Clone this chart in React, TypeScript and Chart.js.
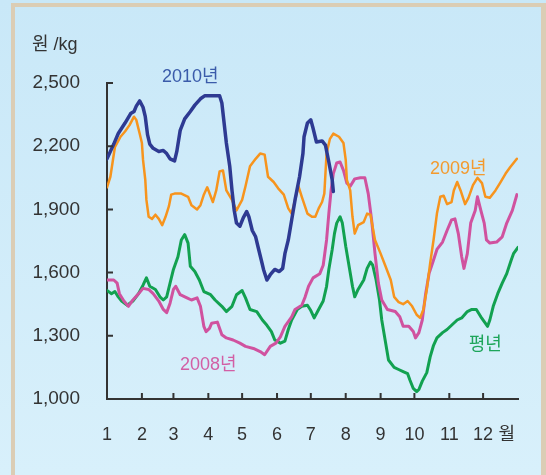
import React, { useEffect, useRef } from "react";
import { Chart, registerables } from "chart.js";

Chart.register(...registerables);

// x positions are day-of-year (0 = 1 Jan, 365 = 31 Dec end)
const monthStarts = [0, 31, 59, 90, 120, 151, 181, 212, 243, 273, 304, 334];
const monthLabels = ["1", "2", "3", "4", "5", "6", "7", "8", "9", "10", "11", "12"];
const yTicks = [1000, 1300, 1600, 1900, 2200, 2500];

const days2010 = [0, 6, 10, 16, 21, 24, 26, 29, 32, 34, 36, 38, 41, 46, 50, 53, 56, 60, 62, 65, 69, 74, 78, 83, 87, 100, 102, 104, 106, 109, 111, 113, 115, 118, 121, 124, 126, 129, 132, 134, 137, 139, 142, 145, 149, 153, 156, 158, 161, 164, 167, 171, 174, 175, 178, 181, 183, 186, 191, 194, 197, 200, 201];
const price2010 = [2140, 2210, 2260, 2310, 2355, 2365, 2390, 2415, 2385, 2340, 2255, 2210, 2190, 2175, 2180, 2165, 2140, 2130, 2175, 2275, 2330, 2365, 2395, 2425, 2440, 2440, 2405, 2310, 2215, 2105, 1990, 1895, 1835, 1820, 1860, 1890, 1865, 1800, 1770, 1725, 1660, 1615, 1565, 1590, 1615, 1605, 1620, 1690, 1755, 1850, 1945, 2055, 2165, 2245, 2310, 2325, 2285, 2220, 2225, 2205, 2125, 2040, 1985];

const days2009 = [0, 3, 5, 7, 12, 16, 20, 24, 26, 29, 31, 32, 34, 35, 37, 40, 43, 46, 49, 52, 55, 57, 60, 66, 72, 75, 80, 83, 86, 89, 94, 97, 100, 103, 106, 111, 115, 120, 123, 127, 132, 136, 140, 143, 148, 152, 157, 161, 164, 167, 170, 173, 178, 182, 185, 188, 191, 193, 194, 195, 198, 201, 206, 210, 212, 213, 216, 218, 220, 223, 228, 231, 234, 238, 243, 247, 252, 255, 259, 263, 267, 271, 275, 278, 281, 284, 287, 290, 293, 296, 299, 302, 306, 308, 311, 314, 318, 321, 325, 329, 333, 336, 340, 345, 349, 354, 358, 364];
const price2009 = [2005, 2055, 2125, 2195, 2245, 2270, 2300, 2340, 2325, 2260, 2215, 2135, 2040, 1945, 1865, 1855, 1875, 1855, 1825, 1865, 1915, 1970, 1975, 1975, 1960, 1920, 1900, 1920, 1970, 2005, 1935, 1990, 2080, 2085, 1990, 1945, 1895, 1945, 2010, 2105, 2140, 2165, 2160, 2055, 2030, 2000, 1970, 1905, 1880, 1945, 2010, 1960, 1880, 1865, 1865, 1905, 1935, 1975, 2070, 2165, 2235, 2260, 2245, 2215, 2135, 2040, 1990, 1865, 1785, 1825, 1840, 1880, 1875, 1755, 1690, 1635, 1565, 1485, 1460, 1450, 1465, 1440, 1400, 1385, 1425, 1520, 1645, 1755, 1880, 1960, 1965, 1925, 1935, 1990, 2030, 1990, 1925, 1955, 2015, 2050, 2025, 1960, 1955, 1990, 2025, 2070, 2100, 2140];

const days2008 = [0, 6, 9, 11, 15, 19, 23, 28, 32, 37, 41, 46, 50, 53, 56, 59, 61, 65, 71, 75, 80, 83, 86, 88, 91, 93, 98, 102, 106, 112, 118, 123, 130, 136, 140, 145, 150, 154, 158, 164, 167, 173, 176, 179, 183, 189, 192, 195, 197, 199, 201, 204, 207, 210, 213, 216, 220, 225, 229, 232, 235, 238, 241, 244, 249, 256, 260, 263, 268, 272, 274, 277, 280, 283, 286, 290, 293, 298, 302, 306, 309, 312, 315, 317, 320, 323, 327, 329, 332, 335, 337, 340, 346, 351, 355, 360, 364];
const price2008 = [1565, 1565, 1550, 1500, 1465, 1440, 1470, 1500, 1525, 1520, 1500, 1465, 1425, 1410, 1455, 1520, 1535, 1495, 1480, 1470, 1480, 1440, 1345, 1320, 1335, 1360, 1365, 1305, 1290, 1280, 1265, 1250, 1240, 1225, 1210, 1250, 1265, 1295, 1345, 1390, 1425, 1445, 1485, 1535, 1575, 1595, 1635, 1755, 1880, 1990, 2070, 2120, 2125, 2085, 2025, 2010, 2045, 2050, 2050, 1975, 1850, 1690, 1550, 1470, 1425, 1415, 1390, 1345, 1345, 1320, 1290, 1315, 1375, 1500, 1595, 1660, 1710, 1745, 1800, 1850, 1855, 1785, 1675, 1620, 1690, 1835, 1895, 1960, 1895, 1835, 1755, 1740, 1745, 1770, 1835, 1895, 1970];

const daysNormal = [0, 4, 7, 10, 13, 18, 23, 28, 32, 35, 38, 43, 47, 50, 53, 56, 59, 63, 66, 69, 72, 74, 78, 82, 86, 90, 92, 96, 102, 106, 111, 115, 120, 123, 127, 133, 138, 142, 146, 149, 154, 158, 161, 164, 169, 173, 178, 181, 184, 187, 192, 195, 197, 200, 202, 204, 207, 209, 212, 215, 218, 220, 223, 228, 231, 234, 236, 239, 242, 244, 247, 250, 255, 259, 263, 267, 269, 272, 275, 277, 280, 284, 287, 290, 293, 298, 302, 306, 311, 315, 320, 324, 328, 332, 338, 340, 343, 347, 351, 355, 359, 361, 365];
const priceNormal = [1515, 1500, 1510, 1485, 1465, 1445, 1465, 1500, 1540, 1575, 1535, 1520, 1485, 1470, 1485, 1550, 1615, 1675, 1755, 1780, 1740, 1630, 1605, 1565, 1510, 1500, 1495, 1470, 1440, 1415, 1440, 1495, 1515, 1480, 1425, 1415, 1375, 1350, 1320, 1280, 1265, 1275, 1330, 1375, 1425, 1440, 1445, 1420, 1385, 1415, 1465, 1535, 1615, 1710, 1785, 1835, 1865, 1835, 1725, 1630, 1535, 1485, 1520, 1565, 1620, 1650, 1635, 1565, 1470, 1375, 1280, 1185, 1150, 1140, 1130, 1120, 1090, 1050, 1035, 1045, 1085, 1125, 1200, 1255, 1290, 1315, 1330, 1350, 1375, 1385, 1415, 1425, 1425, 1390, 1345, 1375, 1440, 1500, 1550, 1595, 1660, 1690, 1720];

const seriesNames = ["2010년", "2009년", "2008년", "평년"];

const LATIN = "'Liberation Sans', Arial, 'Noto Sans CJK KR', sans-serif";
const AXIS = "#333333";

const pts = (xs: number[], ys: number[]) => xs.map((x, i) => ({ x, y: ys[i] }));

const decorPlugin = {
  id: "decor",
  beforeDraw(chart: any) {
    const { ctx, width, height } = chart;
    ctx.save();
    const g = ctx.createLinearGradient(0, 0, 0, height);
    g.addColorStop(0, "#C9E8F8");
    g.addColorStop(1, "#D8F0FB");
    ctx.fillStyle = g;
    ctx.fillRect(0, 0, width, height);
    ctx.fillStyle = "#DBCDB5";
    ctx.fillRect(11, 3, width - 11, 4);
    ctx.fillRect(11, 3, 4, height);
    ctx.fillRect(541, 3, 5, height);
    ctx.restore();
  },
  afterDraw(chart: any) {
    const { ctx } = chart;
    const xs = chart.scales.x;
    const ys = chart.scales.y;
    ctx.save();
    ctx.strokeStyle = AXIS;
    ctx.lineWidth = 2;
    ctx.beginPath();
    yTicks.forEach((v) => {
      const y = ys.getPixelForValue(v);
      ctx.moveTo(xs.left, y);
      ctx.lineTo(xs.left + 6, y);
    });
    monthStarts.forEach((d) => {
      const x = xs.getPixelForValue(d);
      ctx.moveTo(x, ys.bottom);
      ctx.lineTo(x, ys.bottom - 6);
    });
    ctx.stroke();

    ctx.textAlign = "center";
    ctx.textBaseline = "middle";
    ctx.font = `18px ${LATIN}`;
    const label = (t: string, d: number, v: number, c: string) => {
      ctx.fillStyle = c;
      ctx.fillText(t, xs.getPixelForValue(d), ys.getPixelForValue(v));
    };
    label(seriesNames[0], 74, 2528, "#3A5BAA");
    label(seriesNames[1], 312, 2092, "#F39A2E");
    label(seriesNames[2], 90, 1163, "#D25FA5");
    label(seriesNames[3], 336, 1257, "#1DA55A");

    ctx.fillStyle = "#333333";
    ctx.fillText("월", xs.getPixelForValue(355), ys.bottom + 36);
    ctx.textAlign = "left";
    ctx.fillText("원 /kg", 32, ys.top - 38);
    ctx.restore();
  },
};

export default function App() {
  const ref = useRef<HTMLCanvasElement | null>(null);
  useEffect(() => {
    if (!ref.current) return;
    const chart = new Chart(ref.current, {
      type: "line",
      data: {
        datasets: [
          { label: seriesNames[0], data: pts(days2010, price2010), borderColor: "#2E3A92", borderWidth: 3.5 },
          { label: seriesNames[1], data: pts(days2009, price2009), borderColor: "#F7941D", borderWidth: 2.5 },
          { label: seriesNames[2], data: pts(days2008, price2008), borderColor: "#D0529F", borderWidth: 3 },
          { label: seriesNames[3], data: pts(daysNormal, priceNormal), borderColor: "#12A150", borderWidth: 3 },
        ],
      },
      options: {
        animation: false,
        responsive: false,
        maintainAspectRatio: false,
        elements: {
          point: { radius: 0, hoverRadius: 0 },
          line: { tension: 0, borderJoinStyle: "round", borderCapStyle: "round", fill: false },
        },
        layout: { padding: { left: 0, top: 83, right: 28, bottom: 0 } },
        plugins: { legend: { display: false }, tooltip: { enabled: false }, title: { display: false } },
        scales: {
          x: {
            type: "linear",
            min: 0,
            max: 365,
            afterBuildTicks: (scale: any) => {
              scale.ticks = monthStarts.map((v) => ({ value: v }));
            },
            afterFit: (scale: any) => {
              scale.height = 76;
            },
            ticks: {
              autoSkip: false,
              maxRotation: 0,
              padding: 25,
              color: "#333333",
              font: { family: LATIN, size: 18 },
              callback: (v: any) => {
                const i = monthStarts.indexOf(Number(v));
                return i >= 0 ? monthLabels[i] : "";
              },
            },
            grid: { drawOnChartArea: false, drawTicks: false },
            border: { display: true, color: AXIS, width: 2 },
          },
          y: {
            min: 1000,
            max: 2500,
            afterBuildTicks: (scale: any) => {
              scale.ticks = yTicks.map((v) => ({ value: v }));
            },
            afterFit: (scale: any) => {
              scale.width = 107;
            },
            ticks: {
              padding: 27,
              color: "#333333",
              font: { family: LATIN, size: 19 },
              callback: (v: any) => Number(v).toLocaleString("en-US"),
            },
            grid: { drawOnChartArea: false, drawTicks: false },
            border: { display: true, color: AXIS, width: 2 },
          },
        },
      },
      plugins: [decorPlugin],
    });
    return () => chart.destroy();
  }, []);
  return (
    <div style={{ position: "absolute", left: 0, top: 0, width: 546, height: 475 }}>
      <canvas ref={ref} width={546} height={475} style={{ display: "block", width: 546, height: 475 }} />
    </div>
  );
}
